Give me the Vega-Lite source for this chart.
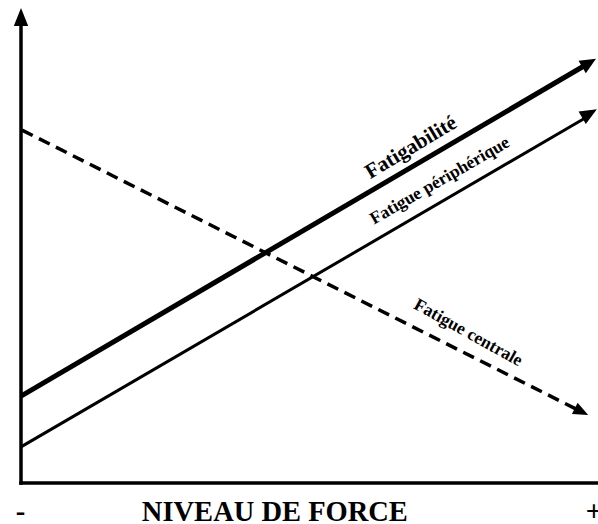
{
  "$schema": "https://vega.github.io/schema/vega-lite/v6.json",
  "width": 577,
  "height": 475,
  "autosize": {"type": "none"},
  "padding": {"left": 21, "top": 8, "right": 0, "bottom": 41},
  "background": "white",
  "config": {"view": {"stroke": null}},
  "datasets": {
    "lines": [
      {"series": "Fatigabilité", "force": 0, "level": 18.3},
      {"series": "Fatigabilité", "force": 97.85, "level": 88.0},
      {"series": "Fatigue périphérique", "force": 0, "level": 7.6},
      {"series": "Fatigue périphérique", "force": 98.0, "level": 77.0},
      {"series": "Fatigue centrale", "force": 0.17, "level": 74.3},
      {"series": "Fatigue centrale", "force": 96.4, "level": 15.45}
    ],
    "tips": [
      {"series": "Fatigabilité", "force": 99.65, "level": 89.3},
      {"series": "Fatigue périphérique", "force": 99.8, "level": 78.7},
      {"series": "Fatigue centrale", "force": 98.3, "level": 14.3},
      {"series": "axe", "force": 0, "level": 100}
    ],
    "axes": [
      {"axis": "x", "force": 0, "level": 0, "force2": 100, "level2": 0},
      {"axis": "y", "force": 0, "level": 0, "force2": 0, "level2": 97.5}
    ],
    "labels": [
      {"label": "Fatigabilité", "force": 67.6, "level": 70.6},
      {"label": "Fatigue périphérique", "force": 72.6, "level": 63.6},
      {"label": "Fatigue centrale", "force": 77.5, "level": 31.6},
      {"label": "-", "force": -0.1, "level": -7.9},
      {"label": "NIVEAU DE FORCE", "force": 44.0, "level": -7.9},
      {"label": "+", "force": 99.3, "level": -7.9}
    ]
  },
  "encoding": {
    "x": {"field": "force", "type": "quantitative", "scale": {"domain": [0, 100], "nice": false, "zero": false}, "axis": null},
    "y": {"field": "level", "type": "quantitative", "scale": {"domain": [0, 100], "nice": false, "zero": false}, "axis": null}
  },
  "layer": [
    {
      "data": {"name": "axes"},
      "mark": {"type": "rule", "color": "black", "strokeWidth": 3.5, "strokeCap": "square"},
      "encoding": {
        "x2": {"field": "force2"},
        "y2": {"field": "level2"}
      }
    },
    {
      "data": {"name": "lines"},
      "transform": [{"filter": "datum.series === 'Fatigabilité'"}],
      "mark": {"type": "line", "color": "black", "strokeWidth": 5, "strokeCap": "butt"},
      "encoding": {}
    },
    {
      "data": {"name": "lines"},
      "transform": [{"filter": "datum.series === 'Fatigue périphérique'"}],
      "mark": {"type": "line", "color": "black", "strokeWidth": 3, "strokeCap": "butt"},
      "encoding": {}
    },
    {
      "data": {"name": "lines"},
      "transform": [{"filter": "datum.series === 'Fatigue centrale'"}],
      "mark": {"type": "line", "color": "black", "strokeWidth": 3.5, "strokeCap": "butt", "strokeDash": [12, 7]},
      "encoding": {}
    },
    {
      "data": {"name": "tips"},
      "transform": [{"filter": "datum.series === 'Fatigabilité'"}],
      "mark": {"type": "point", "shape": "M0,0L-1,-0.45L-1,0.45Z", "size": 1024, "angle": 329.6, "filled": true, "color": "black", "opacity": 1, "strokeWidth": 0}
    },
    {
      "data": {"name": "tips"},
      "transform": [{"filter": "datum.series === 'Fatigue périphérique'"}],
      "mark": {"type": "point", "shape": "M0,0L-1,-0.42L-1,0.42Z", "size": 1156, "angle": 329.6, "filled": true, "color": "black", "opacity": 1, "strokeWidth": 0}
    },
    {
      "data": {"name": "tips"},
      "transform": [{"filter": "datum.series === 'Fatigue centrale'"}],
      "mark": {"type": "point", "shape": "M0,0L-1,-0.42L-1,0.42Z", "size": 900, "angle": 26.7, "filled": true, "color": "black", "opacity": 1, "strokeWidth": 0}
    },
    {
      "data": {"name": "tips"},
      "transform": [{"filter": "datum.series === 'axe'"}],
      "mark": {"type": "point", "shape": "M0,0L-1,-0.4L-1,0.4Z", "size": 1296, "angle": 270, "filled": true, "color": "black", "opacity": 1, "strokeWidth": 0}
    },
    {
      "data": {"name": "labels"},
      "transform": [{"filter": "datum.label === 'Fatigabilité'"}],
      "mark": {"type": "text", "font": "Liberation Serif", "fontWeight": "bold", "fontSize": 21, "angle": 329, "align": "center", "baseline": "middle", "color": "black"},
      "encoding": {"text": {"field": "label"}}
    },
    {
      "data": {"name": "labels"},
      "transform": [{"filter": "datum.label === 'Fatigue périphérique'"}],
      "mark": {"type": "text", "font": "Liberation Serif", "fontWeight": "bold", "fontSize": 17.5, "angle": 330, "align": "center", "baseline": "middle", "color": "black"},
      "encoding": {"text": {"field": "label"}}
    },
    {
      "data": {"name": "labels"},
      "transform": [{"filter": "datum.label === 'Fatigue centrale'"}],
      "mark": {"type": "text", "font": "Liberation Serif", "fontWeight": "bold", "fontSize": 17.5, "angle": 29, "align": "center", "baseline": "middle", "color": "black"},
      "encoding": {"text": {"field": "label"}}
    },
    {
      "data": {"name": "labels"},
      "transform": [{"filter": "datum.label === '-' || datum.label === '+' || datum.label === 'NIVEAU DE FORCE'"}],
      "mark": {"type": "text", "font": "Liberation Serif", "fontWeight": "bold", "fontSize": 28.5, "align": "center", "baseline": "alphabetic", "color": "black"},
      "encoding": {"text": {"field": "label"}}
    }
  ]
}
